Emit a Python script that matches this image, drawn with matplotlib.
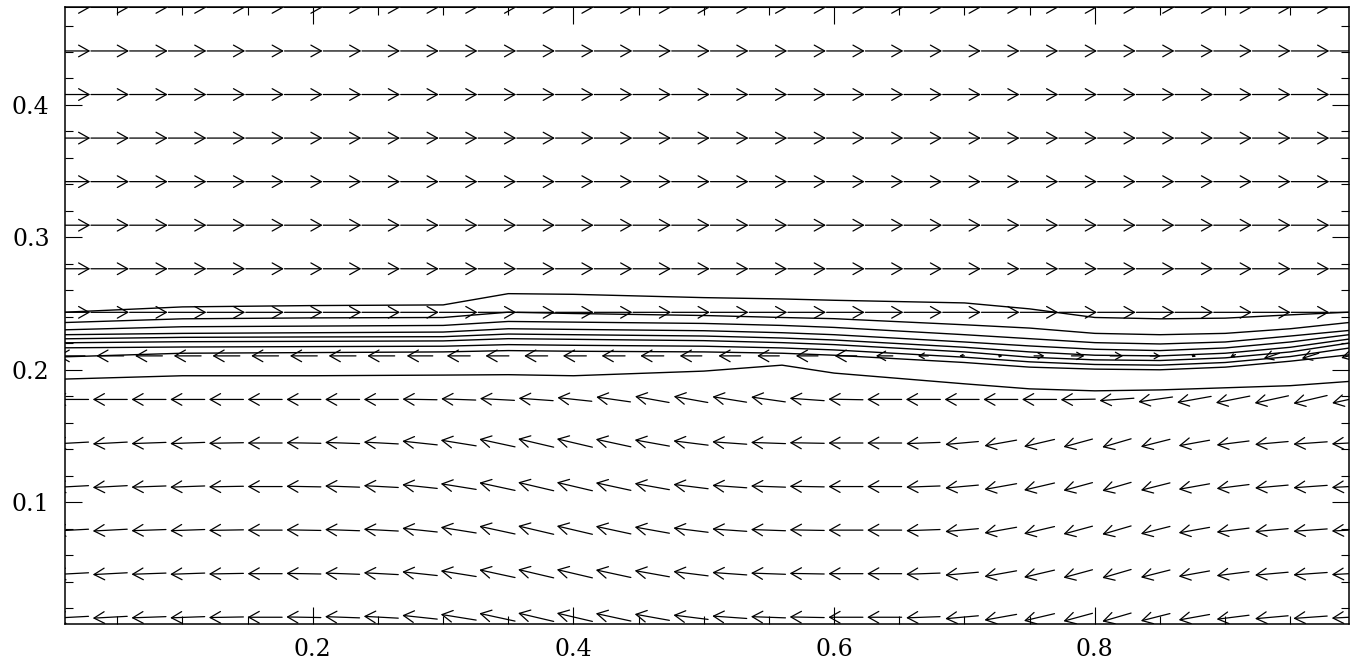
import numpy as np
import matplotlib
matplotlib.use("Agg")
from matplotlib import pyplot as plt
from matplotlib.patches import FancyArrowPatch
from matplotlib.ticker import MultipleLocator

# grid of arrow centres
grid_x = np.linspace(0.0147, 0.995, 34)
grid_y = np.linspace(0.0131, 0.4737, 15)

# upper flow (rows 7..14): rightward, length in data units
top_len = [0.0292] * 34

# lower rows (0..4): leftward, length and tilt (deg, + = pointing up)
low_len = [0.0265, 0.0265, 0.0265, 0.0265, 0.0265, 0.0265, 0.0265, 0.0265, 0.0265, 0.027,
           0.0275, 0.028, 0.028, 0.028, 0.0275, 0.027, 0.0268, 0.0265, 0.0265, 0.0265,
           0.0265, 0.0265, 0.026, 0.0255, 0.025, 0.024, 0.023, 0.023, 0.023, 0.024,
           0.025, 0.0255, 0.026, 0.0265]
low_ang = [-3, -3, -2, -2, -1, 0, 1, 2, 3, 6, 9, 12, 13, 13, 12, 10, 7, 4, 2, 1,
           0, 0, -2, -5, -10, -13, -15, -16, -14, -10, -7, -5, -4, -3]

# row 5 (y~0.178)
r5_len = [0.0265] * 34
r5_ang = [0, 0, 0, 0, 0, 0, 0, 0, 0, 1, 2, 3, 4, 6, 8, 10, 10, 9, 8, 4,
          1, 0, 0, 0, 0, 0, -1, -4, -8, -10, -11, -12, -13, -12]

# row 6 (y~0.211), shear layer: u, v in data units
mid_u = [-0.021, -0.021, -0.021, -0.021, -0.021, -0.021, -0.021, -0.021, -0.021, -0.020,
         -0.018, -0.018, -0.018, -0.018, -0.018, -0.018, -0.017, -0.017, -0.017, -0.017,
         -0.017, -0.013, -0.008, -0.004, 0.003, 0.008, 0.010, 0.010, 0.008, 0.003,
         -0.004, -0.012, -0.013, -0.012]
mid_v = [0, 0, 0, 0, 0, 0, 0, 0, 0, 0, 0, 0, 0, 0, 0, 0, 0, 0, 0, 0,
         0, 0, 0, 0, 0, 0, 0, 0, 0, -0.001, -0.002, -0.004, -0.004, -0.003]

# contour lines
cont_x = [0.01, 0.1, 0.2, 0.3, 0.35, 0.4, 0.5, 0.56, 0.6, 0.7, 0.75, 0.8, 0.85, 0.9, 0.95, 0.995]
c1 = [0.2435, 0.2475, 0.2485, 0.249, 0.2575, 0.257, 0.2545, 0.2535, 0.2525, 0.2505, 0.246, 0.2395, 0.2385, 0.239, 0.2415, 0.2435]
c2 = [0.2357, 0.2385, 0.2392, 0.2395, 0.2435, 0.2425, 0.241, 0.2395, 0.2386, 0.234, 0.2315, 0.2275, 0.2265, 0.2275, 0.231, 0.2357]
c3 = [0.2302, 0.2325, 0.233, 0.2335, 0.2365, 0.236, 0.235, 0.2335, 0.232, 0.2265, 0.2235, 0.2205, 0.2195, 0.221, 0.2255, 0.2297]
c4 = [0.2265, 0.2275, 0.228, 0.2285, 0.231, 0.2305, 0.2295, 0.228, 0.2265, 0.221, 0.218, 0.2155, 0.2145, 0.2165, 0.221, 0.2265]
c5 = [0.2234, 0.2245, 0.2248, 0.225, 0.227, 0.2265, 0.2255, 0.224, 0.2225, 0.217, 0.2135, 0.211, 0.2105, 0.2125, 0.217, 0.2232]
c6 = [0.2204, 0.2212, 0.2215, 0.2218, 0.2235, 0.223, 0.222, 0.2205, 0.219, 0.2135, 0.2095, 0.2075, 0.207, 0.209, 0.2135, 0.2202]
c7 = [0.2166, 0.2172, 0.2175, 0.2178, 0.219, 0.2185, 0.2178, 0.2165, 0.215, 0.2095, 0.206, 0.204, 0.2035, 0.2055, 0.21, 0.2164]
c8 = [0.2098, 0.2125, 0.213, 0.2135, 0.2145, 0.214, 0.2135, 0.2125, 0.211, 0.2055, 0.202, 0.2005, 0.2, 0.202, 0.2065, 0.2113]
c9 = [0.193, 0.1955, 0.1955, 0.196, 0.1963, 0.1955, 0.199, 0.2035, 0.1975, 0.1894, 0.1856, 0.1841, 0.1848, 0.1864, 0.188, 0.1912]
contours = [c1, c2, c3, c4, c5, c6, c7, c8, c9]


def draw_arrow(ax, x, y, u, v):
    L = np.hypot(u, v)
    if L < 1e-6:
        return
    ms = 10 * min(1.0, L / 0.016)
    a = FancyArrowPatch((x - u / 2, y - v / 2), (x + u / 2, y + v / 2),
                        arrowstyle="->,head_length=0.75,head_width=0.42",
                        mutation_scale=ms, shrinkA=0, shrinkB=0,
                        lw=0.9, color="black")
    ax.add_patch(a)


fig = plt.figure(figsize=(13.61, 6.65), dpi=100)
ax = fig.add_axes([65 / 1361, 1 - 624 / 665, (1349 - 65) / 1361, (624 - 7) / 665])

for j, y in enumerate(grid_y):
    for i, x in enumerate(grid_x):
        if j >= 7:
            u, v = top_len[i], 0.0
        elif j == 6:
            u, v = mid_u[i], mid_v[i]
        elif j == 5:
            t = np.radians(r5_ang[i])
            u, v = -r5_len[i] * np.cos(t), r5_len[i] * np.sin(t)
        else:
            t = np.radians(low_ang[i])
            u, v = -low_len[i] * np.cos(t), low_len[i] * np.sin(t)
        draw_arrow(ax, x, y, u, v)

for c in contours:
    ax.plot(cont_x, c, color="black", lw=1.0)

ax.set_xlim(0.0099, 0.995)
ax.set_ylim(0.008, 0.474)

ax.xaxis.set_major_locator(MultipleLocator(0.2))
ax.xaxis.set_minor_locator(MultipleLocator(0.05))
ax.yaxis.set_major_locator(MultipleLocator(0.1))
ax.yaxis.set_minor_locator(MultipleLocator(0.02))
ax.tick_params(which="both", direction="in", top=True, right=True, width=0.8, color="black")
ax.tick_params(which="major", length=12.5)
ax.tick_params(which="minor", length=6)
ax.tick_params(axis="y", which="major", pad=11)
ax.tick_params(axis="x", which="major", pad=10)
ax.xaxis.set_major_formatter(plt.FuncFormatter(lambda v, p: f"{v:.1f}"))
ax.yaxis.set_major_formatter(plt.FuncFormatter(lambda v, p: f"{v:.1f}"))
for lab in ax.get_xticklabels() + ax.get_yticklabels():
    lab.set_fontfamily("DejaVu Serif")
    lab.set_fontsize(17)
    lab.set_fontweight("light")
for s in ax.spines.values():
    s.set_linewidth(1.1)

fig.savefig("out.png", dpi=100)
